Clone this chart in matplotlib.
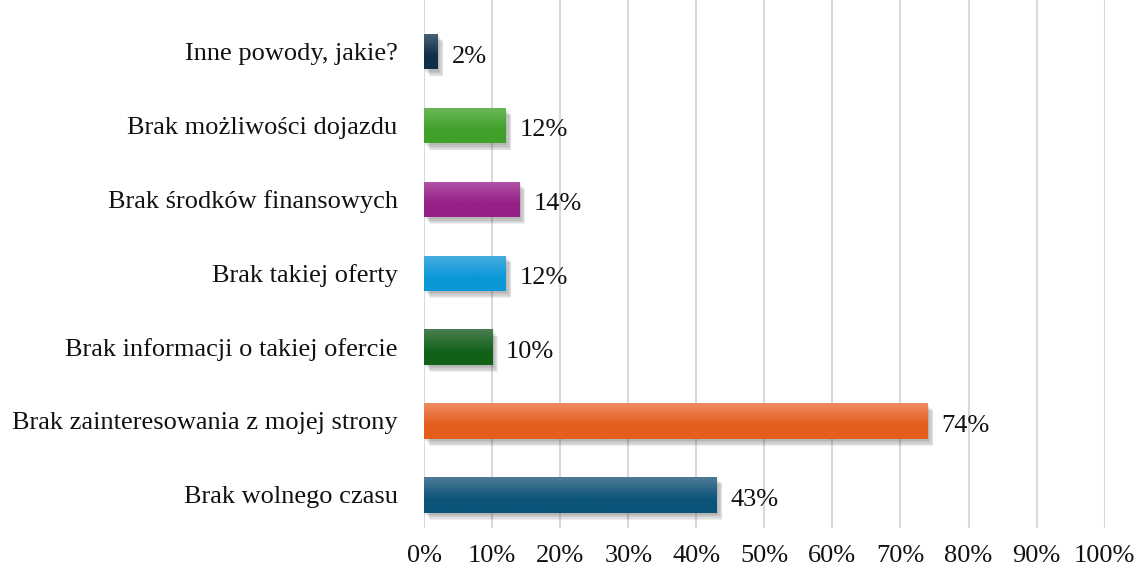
import numpy as np
import matplotlib
matplotlib.use("Agg")
import matplotlib.pyplot as plt
import matplotlib.patheffects as pe
from matplotlib.colors import to_rgb
from matplotlib.ticker import FuncFormatter

categories = [
    "Brak wolnego czasu",
    "Brak zainteresowania z mojej strony",
    "Brak informacji o takiej ofercie",
    "Brak takiej oferty",
    "Brak środków finansowych",
    "Brak możliwości dojazdu",
    "Inne powody, jakie?",
]
values = [43, 74, 10, 12, 14, 12, 2]
x_ticks = [0, 10, 20, 30, 40, 50, 60, 70, 80, 90, 100]

top_colors = ["#4d7a96", "#ef8a62", "#4a7e50", "#4aaee0", "#b055a5", "#6db85a", "#4a6278"]
bottom_colors = ["#0b5479", "#e45e1c", "#116218", "#0a98d8", "#962088", "#40a02a", "#102f48"]

plt.rcParams['font.family'] = ['Liberation Serif', 'DejaVu Serif']

fig = plt.figure(figsize=(11.4, 5.74), dpi=100)
ax = fig.add_axes([0.372, 0.08, 0.597, 0.92])

y = np.arange(len(categories))
bar_h = 0.48
bars = ax.barh(y, values, height=bar_h, color=bottom_colors, zorder=3)
shadow_fx = []
for dx, dy in [(1.0, -1.5), (2.0, -2.5), (3.0, -3.5), (3.5, -4.5), (4.0, -5.0)]:
    shadow_fx.append(pe.SimplePatchShadow(offset=(dx, dy), shadow_rgbFace='#444444', alpha=0.09))
for b in bars:
    b.set_path_effects(shadow_fx + [pe.Normal()])

for b, tc, bc in zip(bars, top_colors, bottom_colors):
    x0, y0 = b.get_x(), b.get_y()
    w, h = b.get_width(), b.get_height()
    t = np.array(to_rgb(tc)); c = np.array(to_rgb(bc))
    n = 64
    f = np.linspace(0, 1, n)[:, None]
    f = np.clip(f * 1.6, 0, 1)
    grad = (t[None, :] * (1 - f) + c[None, :] * f)[:, None, :]
    im = ax.imshow(grad, extent=[x0, x0 + w, y0, y0 + h], origin='upper',
                   aspect='auto', zorder=4, interpolation='bilinear')
    im.set_clip_path(b)

for yi, v in zip(y, values):
    ax.annotate(f"{v}%", xy=(v, yi), xytext=(10, -3.5), textcoords='offset points',
                va='center', ha='left', fontsize=19, color='#111111', zorder=5)

ax.set_xlim(0, 100)
ax.set_ylim(-0.45, 6.7)
ax.set_xticks(x_ticks)
ax.xaxis.set_major_formatter(FuncFormatter(lambda v, p: f"{int(v)}%"))
ax.set_yticks(y)
ax.set_yticklabels(categories)
ax.tick_params(axis='both', length=0, labelsize=19, colors='#111111')
ax.tick_params(axis='y', pad=19)
ax.tick_params(axis='x', pad=12)
ax.grid(axis='x', color='#d9d9d9', linewidth=1.5, zorder=0)
ax.set_axisbelow(True)
for s in ax.spines.values():
    s.set_visible(False)

fig.savefig("out.png", dpi=100)
